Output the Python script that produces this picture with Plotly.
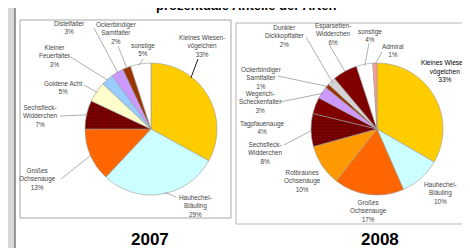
import math
import plotly.graph_objects as go

# ---------------- data ----------------
title = "prozentuale Anteile der Arten"
years = ["2007", "2008"]

species07 = ["Kleines Wiesen-\nvögelchen", "Hauhechel-\nBläuling", "Großes\nOchsenauge",
             "Sechsfleck-\nWidderchen", "Goldene Acht", "Kleiner\nFeuerfalter",
             "Distelfalter", "Ockerbindiger\nSamtfalter", "sonstige"]
values07 = [33, 29, 13, 7, 5, 3, 3, 2, 5]

species08 = ["Kleines Wiesen-\nvögelchen", "Hauhechel-\nBläuling", "Großes\nOchsenauge",
             "Rotbraunes\nOchsenauge", "Sechsfleck-\nWidderchen", "Tagpfauenauge",
             "Wegerich-\nScheckenfalter", "Ockerbindiger\nSamtfalter", "Dunkler\nDickkopffalter",
             "Esparsetten-\nWidderchen", "sonstige", "Admiral"]
values08 = [33, 10, 17, 10, 8, 4, 3, 1, 2, 6, 4, 1]

# ---------------- styles / layout ----------------
W, H = 470, 248
FONT = "Liberation Sans, Arial, sans-serif"

def px(x):
    return x / W

def py(y):
    return 1 - y / H

colors07 = ["#FFCC00", "#CCFFFF", "#FF6600", "#800000", "#FFFFCC", "#99CCFF",
            "#CC99FF", "#993300", "#FFFFFF"]
colors08 = ["#FFCC00", "#CCFFFF", "#FF6600", "#FF9900", "#800000", "#800000",
            "#CC99FF", "#993300", "#D4D4D4", "#800000", "#FFFFFF", "#FF9999"]
pattern07 = ["", "", "", "+", "", "", "", "", ""]
pattern08 = ["", "", "", "", "+", "", "", "", "", "", "", ""]

pies = [
    dict(names=species07, values=values07, colors=colors07, pattern=pattern07,
         cx=143, cy=121, r=66,
         text_pos=[(194, 38), (187, 198), (30, 171), (32, 108), (55, 80), (47, 48),
                   (61, 19), (108, 25), (135, 42)],
         line_start=[(190, 51), (168, 189), (53, 171), (52, 108), (76, 77), (61, 48),
                     (86, 20), (110, 38), (135, 51)],
         frac=[0.32, 0.47, 0.5, 0.5, 0.5, 0.5, 0.5, 0.5, 0.4],
         dark_first=True, year_x=142),
    dict(names=species08, values=values08, colors=colors08, pattern=pattern08,
         cx=369, cy=121, r=66,
         text_pos=[(437, 63), (432, 185), (360, 203), (294, 173), (257, 145), (255, 119),
                   (252, 94), (253, 70), (276, 28), (325, 26), (362, 27), (385, 43)],
         line_start=[None, None, None, None, (276, 137), None,
                     (272, 94), (270, 68), (298, 29), (322, 38), (361, 35), (374, 44)],
         frac=[0.5] * 12,
         dark_first=False, year_x=372),
]

fig = go.Figure()
shapes = []
annotations = []

# outer frame and panels
shapes.append(dict(type="rect", xref="paper", yref="paper", x0=px(7), x1=px(468),
                   y0=py(243), y1=py(-5), line=dict(color="#404040", width=1),
                   fillcolor="white", layer="below"))
shapes.append(dict(type="rect", xref="paper", yref="paper", x0=px(12), x1=px(223),
                   y0=py(210), y1=py(12), line=dict(color="#A6A6A6", width=1),
                   fillcolor="white", layer="below"))
shapes.append(dict(type="rect", xref="paper", yref="paper", x0=px(228), x1=px(465),
                   y0=py(216), y1=py(15), line=dict(color="#B4B4B4", width=1),
                   fillcolor="white", layer="below"))

for k, p in enumerate(pies):
    cx, cy, r = p["cx"], p["cy"], p["r"]
    fig.add_trace(go.Pie(
        labels=[n.replace("\n", " ") for n in p["names"]],
        values=p["values"],
        sort=False, direction="clockwise", rotation=0,
        textinfo="none", hoverinfo="label+percent",
        marker=dict(colors=p["colors"], line=dict(color="#9A9A9A", width=0.6),
                    pattern=dict(shape=p["pattern"], fgcolor="#560000",
                                 bgcolor=p["colors"], size=3, solidity=0.3)),
        domain=dict(x=[px(cx - r), px(cx + r)], y=[py(cy + r), py(cy - r)]),
        showlegend=False,
    ))
    total = sum(p["values"])
    cum = 0
    for i, (name, v) in enumerate(zip(p["names"], p["values"])):
        ang = math.radians((cum + p["frac"][i] * v) / total * 360)
        cum += v
        tx, ty = p["text_pos"][i]
        is_kw2008 = (k == 1 and i == 0)
        annotations.append(dict(
            x=px(tx), y=py(ty), xref="paper", yref="paper", showarrow=False,
            xanchor="center", yanchor="middle", align="center",
            text=name.replace("\n", "<br>") + "<br>" + f"{v}%",
            font=dict(family=FONT, size=6.6 if is_kw2008 else 6.4,
                      color="#000000" if is_kw2008 else "#474747"),
        ))
        ls = p["line_start"][i]
        if ls is not None:
            tipx = cx + r * 0.98 * math.sin(ang)
            tipy = cy - r * 0.98 * math.cos(ang)
            dark = p["dark_first"] and i == 0
            shapes.append(dict(type="line", xref="paper", yref="paper",
                               x0=px(ls[0]), y0=py(ls[1]), x1=px(tipx), y1=py(tipy),
                               line=dict(color="#202020" if dark else "#8C8C8C",
                                         width=1 if dark else 0.7),
                               layer="above"))
    annotations.append(dict(
        x=px(p["year_x"]), y=py(231), xref="paper", yref="paper", showarrow=False,
        xanchor="center", yanchor="middle", text="<b>" + years[k] + "</b>",
        font=dict(family=FONT, size=17, color="#000000"),
    ))

annotations.append(dict(
    x=px(238), y=py(-2.5), xref="paper", yref="paper", showarrow=False,
    xanchor="center", yanchor="middle", text="<b>" + title + "</b>",
    font=dict(family=FONT, size=13, color="#000000"),
))

fig.update_layout(
    width=W, height=H,
    margin=dict(l=0, r=0, t=0, b=0),
    paper_bgcolor="#D9D9D9",
    plot_bgcolor="#D9D9D9",
    shapes=shapes,
    annotations=annotations,
    showlegend=False,
)

fig.write_html("out.html", config=dict(displayModeBar=False))
